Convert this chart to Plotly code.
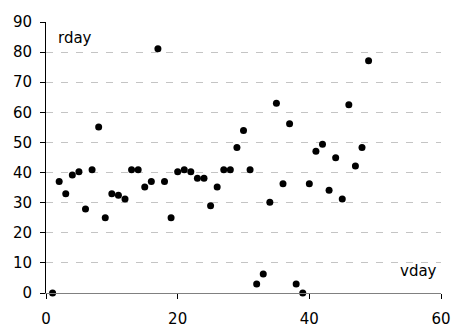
import plotly.graph_objects as go

vday = list(range(1, 50))
rday = [0, 37, 33, 39.2, 40.3, 27.9, 40.9, 55.1, 25, 33,
        32.5, 31.2, 40.9, 40.9, 35.2, 37, 81.1, 37, 25, 40.3,
        40.9, 40.3, 38.1, 38.1, 29, 35.2, 40.9, 40.9, 48.3, 54,
        40.9, 3, 6.3, 30.1, 63, 36.3, 56.2, 3, 0, 36.3,
        47.1, 49.4, 34.1, 44.9, 31.2, 62.5, 42.2, 48.3, 77.1]

x_ticks = [0, 20, 40, 60]
y_ticks = list(range(0, 91, 10))

FONT = "DejaVu Sans, Liberation Sans, Arial, sans-serif"
FS = 15

fig = go.Figure()
fig.add_trace(go.Scatter(
    x=vday, y=rday, mode="markers",
    marker=dict(color="black", size=7),
    cliponaxis=False, showlegend=False,
))

fig.update_layout(
    width=451, height=329,
    margin=dict(l=46, r=10, t=22, b=36),
    paper_bgcolor="white", plot_bgcolor="white",
    font=dict(family=FONT, size=FS, color="black"),
    xaxis=dict(
        range=[0, 60], tickvals=x_ticks, showgrid=False, zeroline=False,
        showline=True, linecolor="#808080", linewidth=1, automargin=False,
        ticks="outside", ticklen=5, tickcolor="black", tickwidth=1,
        tickfont=dict(size=FS), ticklabelstandoff=7,
    ),
    yaxis=dict(
        range=[0, 90], tickvals=y_ticks, showgrid=True, gridcolor="#c4c4c4",
        griddash="7px,8px", gridwidth=1, zeroline=False, automargin=False,
        showline=True, linecolor="black", linewidth=1,
        ticks="outside", ticklen=5, tickcolor="black", tickwidth=1,
        tickfont=dict(size=FS), ticklabelstandoff=5,
    ),
    annotations=[
        dict(text="rday", xref="paper", yref="paper", x=0.025, y=0.94,
             xanchor="left", yanchor="middle", showarrow=False,
             font=dict(size=FS, family=FONT)),
        dict(text="vday", xref="paper", yref="paper", x=0.995, y=0.08,
             xanchor="right", yanchor="middle", showarrow=False,
             font=dict(size=FS, family=FONT)),
    ],
)

fig.write_html(
    "out.html",
    config={"displayModeBar": False},
    post_script="document.body.style.margin='0';document.body.style.overflow='hidden';",
)
